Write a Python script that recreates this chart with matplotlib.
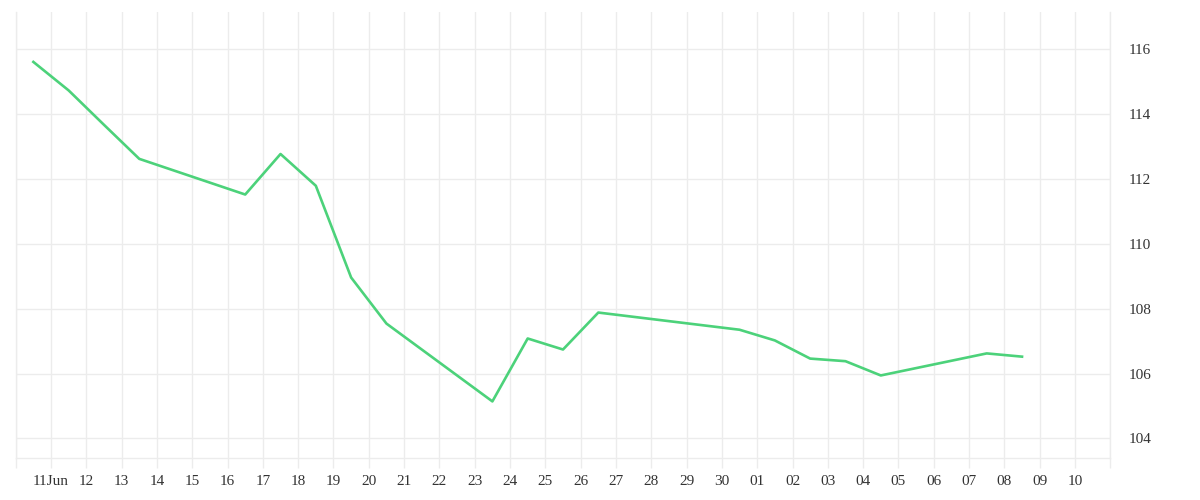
import matplotlib
matplotlib.use('Agg')
import matplotlib.pyplot as plt
import pandas as pd

# data (points sit at midday)
dates = ['2024-06-10', '2024-06-11', '2024-06-12', '2024-06-13', '2024-06-16',
         '2024-06-17', '2024-06-18', '2024-06-19', '2024-06-20', '2024-06-23',
         '2024-06-24', '2024-06-25', '2024-06-26', '2024-06-30', '2024-07-01',
         '2024-07-02', '2024-07-03', '2024-07-04', '2024-07-07', '2024-07-08']
values = [115.61, 114.73, 113.67, 112.62, 111.52,
          112.77, 111.79, 108.96, 107.54, 105.14,
          107.08, 106.74, 107.88, 107.35, 107.02,
          106.46, 106.38, 105.94, 106.62, 106.52]
y_ticks = [104, 106, 108, 110, 112, 114, 116]

x = pd.to_datetime(dates) + pd.Timedelta(hours=12)
grid_col = '#ececec'
plt.rcParams['font.family'] = ['Liberation Serif', 'DejaVu Serif']

fig = plt.figure(figsize=(12, 5), dpi=100)
ax = fig.add_axes([15.7 / 1200, 1 - 458.3 / 500, (1110.3 - 15.7) / 1200, (458.3 - 12.3) / 500])

ax.plot(x, values, color='#4cd27a', lw=1.9)

ax.set_xlim(pd.Timestamp('2024-06-10'), pd.Timestamp('2024-07-11'))
ax.set_ylim(103.385, 117.14)

day_ticks = pd.date_range('2024-06-10', '2024-07-11', freq='D')
labels = []
for d in day_ticks:
    if d == day_ticks[0] or d == day_ticks[-1]:
        labels.append('')
    elif d == pd.Timestamp('2024-06-11'):
        labels.append('11Jun')
    else:
        labels.append(d.strftime('%d'))
ax.set_xticks(day_ticks)
ax.set_xticklabels(labels)

ax.yaxis.tick_right()
ax.set_yticks(y_ticks)
ax.tick_params(axis='y', length=0, pad=13, labelsize=11, labelcolor='#333333')
ax.tick_params(axis='x', length=7.2, color=grid_col, width=1, pad=5,
               labelsize=11, labelcolor='#333333')

ax.grid(True, color=grid_col, lw=1)
ax.set_axisbelow(True)
for side in ['left', 'right', 'bottom']:
    ax.spines[side].set_color(grid_col)
    ax.spines[side].set_linewidth(1)
ax.spines['top'].set_visible(False)

fig.savefig('out.png', dpi=100)
